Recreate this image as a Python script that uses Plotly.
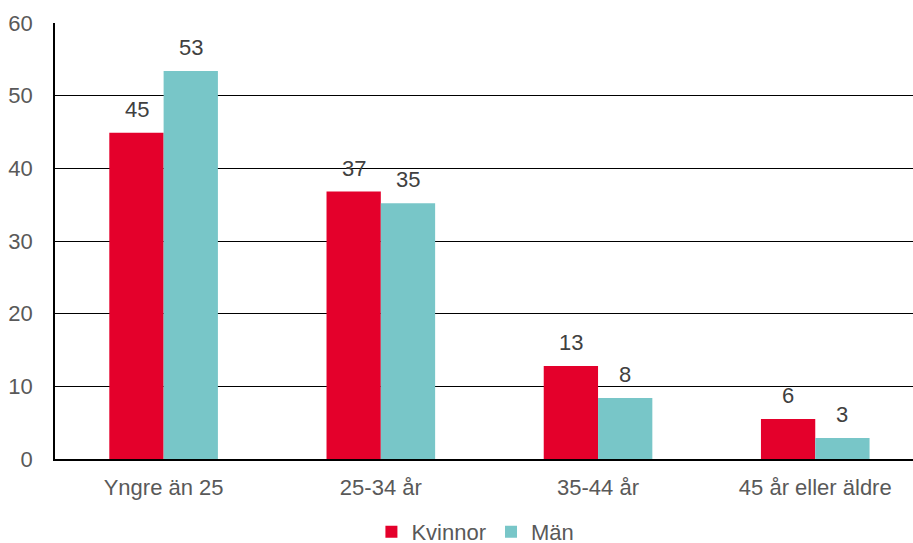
import plotly.graph_objects as go

# age groups and shares (percent)
categories = ["Yngre än 25", "25-34 år", "35-44 år", "45 år eller äldre"]
kvinnor = [44.9, 36.8, 12.8, 5.5]
man = [53.4, 35.2, 8.4, 2.9]

red = "#E4002B"
teal = "#78C6C8"
grey = "#595959"
font_family = "Liberation Sans, Arial, sans-serif"
fsize = 22

fig = go.Figure()
fig.add_trace(go.Bar(x=categories, y=kvinnor, name="Kvinnor",
                     marker=dict(color=red, line_width=0)))
fig.add_trace(go.Bar(x=categories, y=man, name="Män",
                     marker=dict(color=teal, line_width=0)))

# value labels above each bar, shifted half a bar width to the side
for vals, shift in [(kvinnor, -27), (man, 27)]:
    for cat, v in zip(categories, vals):
        fig.add_annotation(x=cat, y=v, text=str(round(v)), showarrow=False,
                           xshift=shift, yshift=9, yanchor="bottom",
                           font=dict(size=fsize, color="#404040"))

fig.update_layout(
    width=913,
    height=553,
    margin=dict(l=55, r=0, t=23, b=88),
    paper_bgcolor="white",
    plot_bgcolor="white",
    barmode="group",
    bargap=0.5,
    bargroupgap=0,
    font=dict(family=font_family, size=fsize, color=grey),
    showlegend=True,
    legend=dict(orientation="h", x=0.49, xanchor="center", y=-0.168, yanchor="middle",
                font=dict(size=fsize, color=grey), itemwidth=30, tracegroupgap=0),
)
fig.update_xaxes(range=[-0.5, 3.45], showline=True, linecolor="black", linewidth=1.5,
                 showgrid=False, ticks="", ticklabelstandoff=8, automargin=False,
                 tickfont=dict(size=fsize, color=grey))
fig.update_yaxes(range=[0, 60], dtick=10, showline=True, linecolor="black", linewidth=1.5,
                 showgrid=True, gridcolor="black", gridwidth=1.2, zeroline=False,
                 ticks="", ticklabelstandoff=16, automargin=False,
                 tickfont=dict(size=fsize, color=grey))

# no default body margin, no scrollbars
page_css = (
    "document.body.style.margin = '0';"
    "document.body.style.overflow = 'hidden';"
    "document.documentElement.style.overflow = 'hidden';"
)
fig.write_html("out.html", config={"displayModeBar": False}, post_script=page_css)
